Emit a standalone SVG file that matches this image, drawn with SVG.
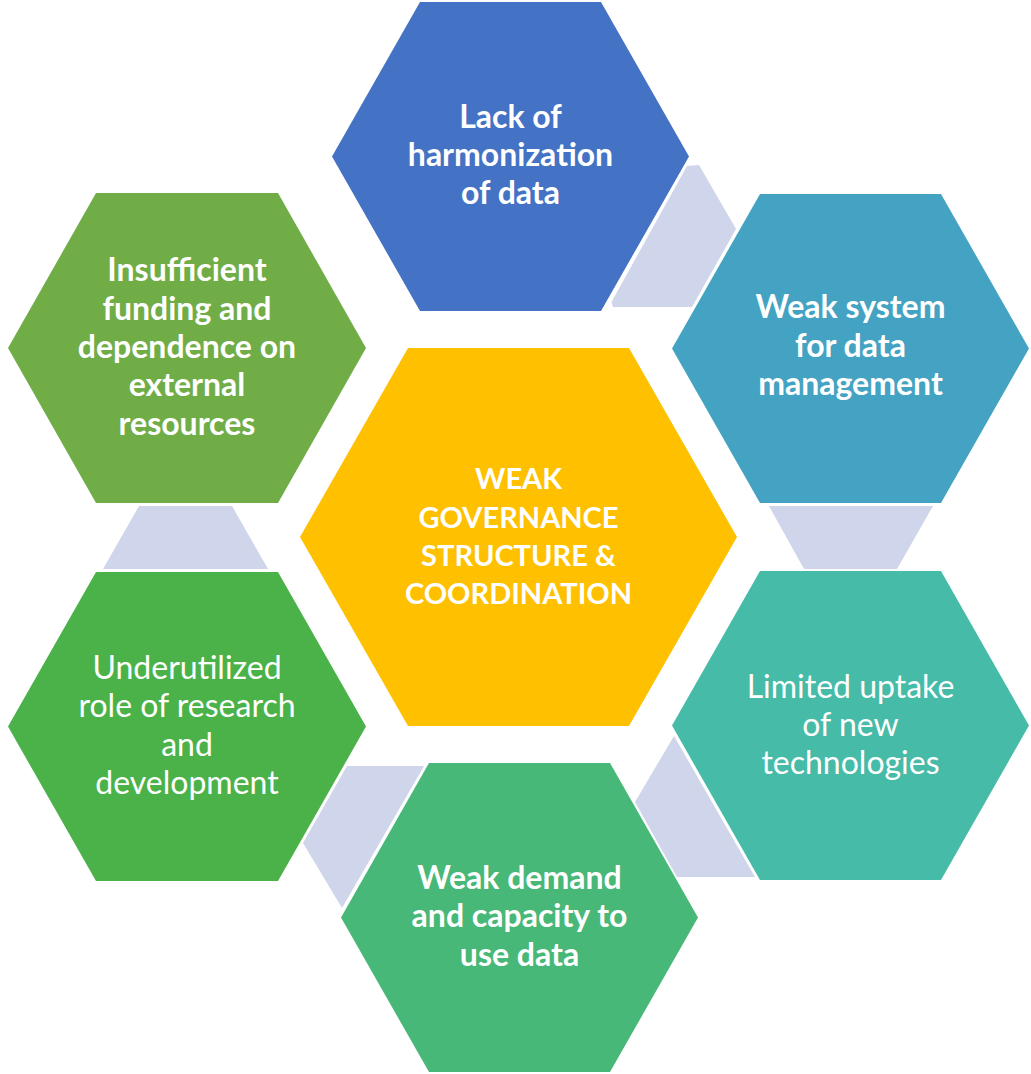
<svg xmlns="http://www.w3.org/2000/svg" width="1031" height="1074" viewBox="0 0 1031 1074">
<style>
.t{font-family:Lato,"Open Sans","Liberation Sans",sans-serif;font-size:32px;fill:#fff;text-anchor:middle}
.c{font-size:29px}
.b{font-weight:bold}
.r{font-weight:normal}
.conn{fill:#CFD5EA}
</style>
<rect width="1031" height="1074" fill="#fff"/>
<g id="connectors">
<polygon class="conn" points="687,166 699,165 736,229 692,307 613,307 611.5,302"/>
<polygon class="conn" points="769,506 933,506 897,569 804,569"/>
<polygon class="conn" points="674,736 635,802 677,877 755,877"/>
<polygon class="conn" points="347,766 424,766 342,908 303,843"/>
<polygon class="conn" points="139,506 232,506 268,569 103,569"/>
</g>
<g id="node-center">
<polygon fill="#FFC000" points="300,537 408,348 629,348 737,537 629,726 408,726"/>
<text class="t c b"><tspan x="518.5" y="489.3">WEAK</tspan><tspan x="518.5" y="527.7">GOVERNANCE</tspan><tspan x="518.5" y="566">STRUCTURE &amp;</tspan><tspan x="518.5" y="604.3">COORDINATION</tspan></text>
</g>
<g id="node-top">
<polygon fill="#4472C4" points="332,156.5 420,2 601,2 689,156.5 601,311 420,311"/>
<text class="t b"><tspan x="510.5" y="127.7">Lack of</tspan><tspan x="510.5" y="166">harmonization</tspan><tspan x="510.5" y="204.3">of data</tspan></text>
</g>
<g id="node-top-right">
<polygon fill="#44A3C2" points="672,348.5 760,194 941,194 1029,348.5 941,503 760,503"/>
<text class="t b"><tspan x="850.5" y="318.3">Weak system</tspan><tspan x="850.5" y="356.7">for data</tspan><tspan x="850.5" y="395">management</tspan></text>
</g>
<g id="node-bottom-right">
<polygon fill="#46BBA8" points="672,725.5 760,571 941,571 1029,725.5 941,880 760,880"/>
<text class="t r"><tspan x="850.5" y="697.7">Limited uptake</tspan><tspan x="850.5" y="736">of new</tspan><tspan x="850.5" y="774.3">technologies</tspan></text>
</g>
<g id="node-bottom">
<polygon fill="#47B877" points="341,917.5 429,763 610,763 698,917.5 610,1072 429,1072"/>
<text class="t b"><tspan x="519.5" y="889">Weak demand</tspan><tspan x="519.5" y="927.3">and capacity to</tspan><tspan x="519.5" y="965.6">use data</tspan></text>
</g>
<g id="node-bottom-left">
<polygon fill="#4AB249" points="8,726.5 96,572 278,572 366,726.5 278,881 96,881"/>
<text class="t r"><tspan x="187" y="679">Underutilized</tspan><tspan x="187" y="717.3">role of research</tspan><tspan x="187" y="755.6">and</tspan><tspan x="187" y="793.9">development</tspan></text>
</g>
<g id="node-top-left">
<polygon fill="#70AD47" points="8,348 96,193 278,193 366,348 278,503 96,503"/>
<text class="t b"><tspan x="187" y="281.3">Insufficient</tspan><tspan x="187" y="319.6">funding and</tspan><tspan x="187" y="357.9">dependence on</tspan><tspan x="187" y="396.2">external</tspan><tspan x="187" y="434.5">resources</tspan></text>
</g>
</svg>
